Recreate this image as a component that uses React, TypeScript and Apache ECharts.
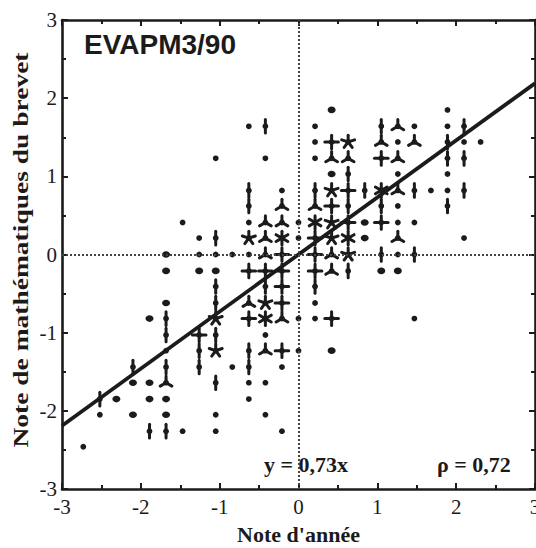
import React, { useEffect, useRef } from "react";
import * as echarts from "echarts";

// Axis ticks
const xTicks = [-3, -2, -1, 0, 1, 2, 3];
const yTicks = [-3, -2, -1, 0, 1, 2, 3];

// Regression y = 0,73x drawn across the plot
const regression: [number, number][] = [
  [-3, -2.19],
  [3, 2.19],
];

// Sunflower points: [note d'année, note brevet, petals] (0 = large dot, 1 = dot, n = n petals)
const pointsLeft: [number, number, number][] = [
  [-2.73, -2.46, 1],
  [-2.52, -1.85, 2], [-2.52, -2.05, 1],
  [-2.31, -1.85, 0],
  [-2.1, -1.44, 2], [-2.1, -1.64, 0], [-2.1, -2.05, 0],
  [-1.89, -0.82, 0], [-1.89, -1.64, 0], [-1.89, -1.85, 0], [-1.89, -2.26, 2],
  [-1.68, 0, 0], [-1.68, -0.21, 0], [-1.68, -0.62, 0], [-1.68, -0.82, 2], [-1.68, -1.03, 2],
  [-1.68, -1.23, 1], [-1.68, -1.44, 2], [-1.68, -1.64, 3], [-1.68, -1.85, 0], [-1.68, -2.05, 0],
  [-1.68, -2.26, 2],
  [-1.47, 0.41, 1], [-1.47, -2.26, 1],
  [-1.26, 0.21, 1], [-1.26, 0, 1], [-1.26, -0.21, 0], [-1.26, -1.03, 4], [-1.26, -1.23, 2],
  [-1.26, -1.44, 2],
  [-1.05, 1.23, 1], [-1.05, 0.21, 2], [-1.05, 0, 1], [-1.05, -0.21, 0], [-1.05, -0.41, 2],
  [-1.05, -0.62, 2], [-1.05, -0.82, 5], [-1.05, -1.03, 2], [-1.05, -1.23, 5], [-1.05, -1.64, 2],
  [-1.05, -2.05, 1], [-1.05, -2.26, 1],
  [-0.84, 0, 1], [-0.84, -1.44, 1],
  [-0.63, 1.64, 1], [-0.63, 0.82, 2], [-0.63, 0.62, 2], [-0.63, 0.41, 1], [-0.63, 0.21, 5],
  [-0.63, 0, 1], [-0.63, -0.21, 4], [-0.63, -0.62, 3], [-0.63, -0.82, 4], [-0.63, -1.23, 2],
  [-0.63, -1.44, 2], [-0.63, -1.64, 1], [-0.63, -1.85, 1],
  [-0.42, 1.64, 2], [-0.42, 1.23, 1], [-0.42, 0.41, 3], [-0.42, 0.21, 3], [-0.42, 0, 3],
  [-0.42, -0.21, 4], [-0.42, -0.41, 2], [-0.42, -0.62, 5], [-0.42, -0.82, 6], [-0.42, -1.03, 1],
  [-0.42, -1.23, 3], [-0.42, -1.64, 1], [-0.42, -2.05, 1],
  [-0.21, 0.82, 1], [-0.21, 0.62, 3], [-0.21, 0.41, 3], [-0.21, 0.21, 6], [-0.21, 0, 4],
  [-0.21, -0.21, 4], [-0.21, -0.41, 4], [-0.21, -0.62, 4], [-0.21, -0.82, 3], [-0.21, -1.23, 4],
  [-0.21, -1.44, 1], [-0.21, -2.26, 1],
  [0, 0.41, 1], [0, 0.21, 1], [0, -0.82, 1], [0, -1.23, 1],
];

const pointsRight: [number, number, number][] = [
  [0.21, 1.64, 1], [0.21, 1.44, 1], [0.21, 1.23, 1], [0.21, 0.82, 2], [0.21, 0.62, 3],
  [0.21, 0.41, 6], [0.21, 0.21, 4], [0.21, 0, 4], [0.21, -0.21, 4], [0.21, -0.41, 2],
  [0.21, -0.62, 1], [0.21, -0.82, 1],
  [0.42, 1.85, 0], [0.42, 1.44, 4], [0.42, 1.23, 3], [0.42, 1.03, 0], [0.42, 0.82, 5],
  [0.42, 0.62, 4], [0.42, 0.41, 5], [0.42, 0.21, 5], [0.42, 0, 3], [0.42, -0.21, 3],
  [0.42, -0.82, 4], [0.42, -1.23, 0],
  [0.63, 1.44, 5], [0.63, 1.23, 3], [0.63, 1.03, 2], [0.63, 0.82, 4], [0.63, 0.62, 2],
  [0.63, 0.41, 4], [0.63, 0.21, 6], [0.63, 0, 5], [0.63, -0.21, 2],
  [0.84, 0.82, 2], [0.84, 0.41, 0], [0.84, 0.21, 0],
  [1.05, 1.64, 2], [1.05, 1.44, 3], [1.05, 1.23, 4], [1.05, 0.82, 6], [1.05, 0.62, 2],
  [1.05, 0.41, 4], [1.05, 0, 2], [1.05, -0.21, 0],
  [1.26, 1.64, 3], [1.26, 1.44, 1], [1.26, 1.23, 3], [1.26, 1.03, 1], [1.26, 0.82, 3],
  [1.26, 0.62, 1], [1.26, 0.41, 1], [1.26, 0.21, 3], [1.26, 0, 1], [1.26, -0.21, 0],
  [1.47, 1.64, 1], [1.47, 1.44, 3], [1.47, 0.82, 2], [1.47, 0.41, 1], [1.47, 0, 2],
  [1.47, -0.82, 1],
  [1.68, 0.82, 1],
  [1.89, 1.85, 1], [1.89, 1.64, 1], [1.89, 1.44, 2], [1.89, 1.23, 2], [1.89, 1.03, 1],
  [1.89, 0.82, 1], [1.89, 0.62, 2],
  [2.1, 1.64, 2], [2.1, 1.44, 1], [2.1, 1.23, 2], [2.1, 0.82, 2], [2.1, 0.21, 1],
  [2.31, 1.44, 1],
];

const INK = "#1b1b1b";
const SERIF = "'Liberation Serif', 'DejaVu Serif', serif";

export default function App() {
  const ref = useRef<HTMLDivElement>(null);

  useEffect(() => {
    if (!ref.current) return;
    const chart = echarts.init(ref.current, null, { renderer: "svg" });

    const petal = 6.8;
    const renderItem = (_params: any, api: any) => {
      const c = api.coord([api.value(0), api.value(1)]);
      const n = api.value(2);
      const cx = c[0];
      const cy = c[1];
      if (n === 0) {
        return {
          type: "ellipse",
          shape: { cx, cy, rx: 4, ry: 3.3 },
          style: { fill: INK },
        };
      }
      const children: any[] = [
        { type: "circle", shape: { cx, cy, r: 2.9 }, style: { fill: INK } },
      ];
      if (n >= 2) {
        for (let k = 0; k < n; k++) {
          const a = Math.PI / 2 + (2 * Math.PI * k) / n;
          children.push({
            type: "line",
            shape: {
              x1: cx,
              y1: cy,
              x2: cx + petal * Math.cos(a),
              y2: cy - petal * Math.sin(a),
            },
            style: { stroke: INK, lineWidth: 3, lineCap: "round" },
          });
        }
      }
      return { type: "group", children };
    };

    const axisCommon = {
      type: "value" as const,
      min: -3,
      max: 3,
      interval: 1,
      splitLine: { show: false },
      axisLine: { show: true, onZero: false, lineStyle: { color: INK, width: 2.6 } },
      axisTick: { show: true, inside: true, length: 6, lineStyle: { color: INK, width: 2 } },
      minorTick: { show: true, splitNumber: 2, length: 4, lineStyle: { color: INK, width: 2 } },
    };

    chart.setOption({
      animation: false,
      backgroundColor: "#ffffff",
      grid: { left: 62, right: 1, top: 20, bottom: 59, outerBoundsMode: "none", containLabel: false },
      xAxis: [
        {
          ...axisCommon,
          position: "bottom",
          axisLabel: {
            color: INK,
            fontFamily: SERIF,
            fontSize: 21,
            margin: 7,
            formatter: (v: number) => (xTicks.includes(v) ? String(v) : ""),
          },
          name: "Note d'année",
          nameLocation: "middle",
          nameGap: 34,
          nameTextStyle: { color: INK, fontFamily: SERIF, fontSize: 22, fontWeight: "bold" },
        },
        {
          ...axisCommon,
          position: "top",
          axisLabel: { show: false },
        },
      ],
      yAxis: [
        {
          ...axisCommon,
          position: "left",
          axisLabel: {
            color: INK,
            fontFamily: SERIF,
            fontSize: 21,
            margin: 5,
            formatter: (v: number) => (yTicks.includes(v) ? String(v) : ""),
          },
        },
        {
          ...axisCommon,
          position: "right",
          axisLabel: { show: false },
        },
      ],
      graphic: [
        {
          type: "text",
          x: 20,
          y: 250,
          rotation: Math.PI / 2,
          scaleX: 1.25,
          style: {
            text: "Note de mathématiques du brevet",
            fontFamily: SERIF,
            fontSize: 22,
            fontWeight: "bold",
            fill: INK,
            align: "center",
            verticalAlign: "middle",
          },
        },
        {
          type: "text",
          x: 84,
          y: 44,
          style: {
            text: "EVAPM3/90",
            fontFamily: "'Liberation Sans', Arial, sans-serif",
            fontSize: 28,
            fontWeight: "bold",
            fill: INK,
            align: "left",
            verticalAlign: "middle",
          },
        },
        {
          type: "text",
          x: 264,
          y: 464,
          style: {
            text: "y = 0,73x",
            fontFamily: SERIF,
            fontSize: 22,
            fontWeight: "bold",
            fill: INK,
            align: "left",
            verticalAlign: "middle",
          },
        },
        {
          type: "text",
          x: 437,
          y: 464,
          style: {
            text: "ρ = 0,72",
            fontFamily: SERIF,
            fontSize: 22,
            fontWeight: "bold",
            fill: INK,
            align: "left",
            verticalAlign: "middle",
          },
        },
      ],
      series: [
        {
          type: "line",
          data: regression,
          symbol: "none",
          lineStyle: { color: INK, width: 3.8 },
          z: 3,
          markLine: {
            silent: true,
            symbol: "none",
            label: { show: false },
            lineStyle: { color: "#444", type: "dotted", width: 2 },
            data: [{ xAxis: 0 }, { yAxis: 0 }],
          },
        },
        {
          type: "custom",
          name: "gauche",
          renderItem,
          data: pointsLeft,
          encode: { x: 0, y: 1 },
          z: 4,
        },
        {
          type: "custom",
          name: "droite",
          renderItem,
          data: pointsRight,
          encode: { x: 0, y: 1 },
          z: 4,
        },
      ],
    });

    return () => chart.dispose();
  }, []);

  return (
    <div
      ref={ref}
      style={{ position: "absolute", left: 0, top: 0, width: 536, height: 548, background: "#fff" }}
    />
  );
}
